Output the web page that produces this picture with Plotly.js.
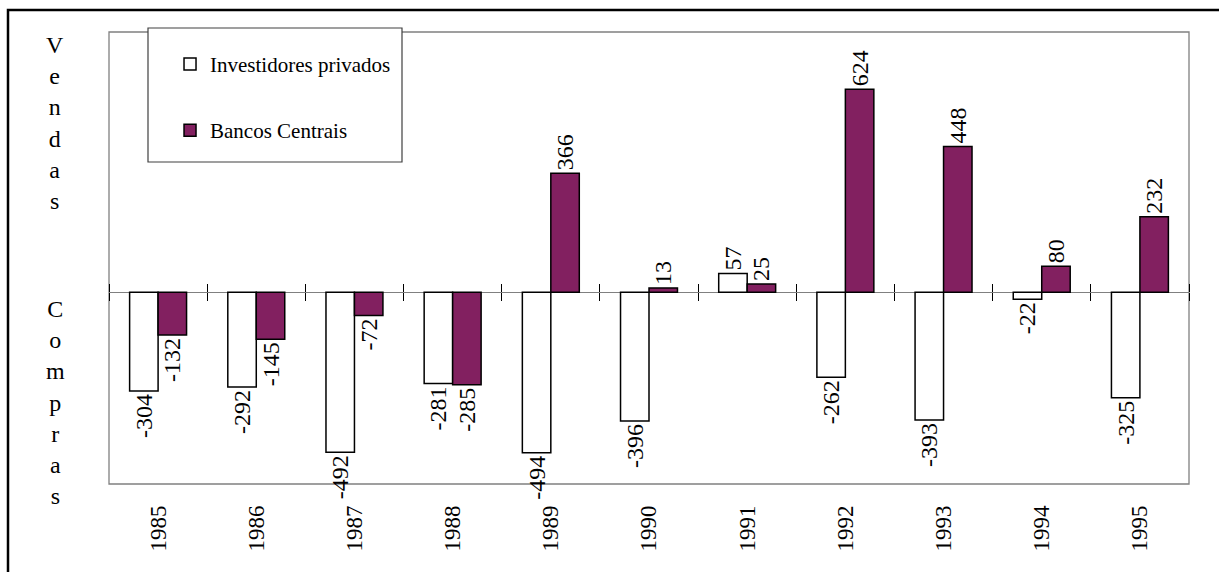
<!DOCTYPE html>
<html><head><meta charset="utf-8">
<script src="https://cdn.plot.ly/plotly-3.0.1.min.js"></script>
<style>html,body{margin:0;padding:0;background:#fff}#chart{width:1219px;height:572px}</style>
</head><body><div id="chart"></div>
<script>
const years = ['1985','1986','1987','1988','1989','1990','1991','1992','1993','1994','1995'];
const investidores = [-304, -292, -492, -281, -494, -396, 57, -262, -393, -22, -325];
const bancos = [-132, -145, -72, -285, 366, 13, 25, 624, 448, 80, 232];
const seriesNames = ['Investidores privados', 'Bancos Centrais'];

const FONT = 'Liberation Serif';
const PURPLE = '#822060';

const traces = [
  {type:'bar', x:years, y:investidores, name:seriesNames[0], legendgroup:'a',
   marker:{color:'#ffffff', line:{color:'#000', width:1.5}},
   text:investidores.map(v=>String(v)), texttemplate:'%{text}', textposition:'outside', textangle:-90, constraintext:'none',
   cliponaxis:false, textfont:{family:FONT, size:24, color:'#000'}, hoverinfo:'x+y'},
  {type:'bar', x:years, y:bancos, name:seriesNames[1], legendgroup:'b',
   marker:{color:PURPLE, line:{color:'#000', width:1.5}},
   text:bancos.map(v=>String(v)), texttemplate:'%{text}', textposition:'outside', textangle:-90, constraintext:'none',
   cliponaxis:false, textfont:{family:FONT, size:24, color:'#000'}, hoverinfo:'x+y'},
  {type:'scatter', mode:'markers', x:years, y:years.map(()=>0), xaxis:'x2', yaxis:'y',
   marker:{opacity:0}, showlegend:false, hoverinfo:'skip'},
  {type:'scatter', mode:'markers', x:years, y:years.map(()=>0), xaxis:'x3', yaxis:'y',
   marker:{opacity:0}, showlegend:false, hoverinfo:'skip'}
];

const zeroPos = 590/1390;
const tickAxis = (side) => ({type:'category', overlaying:'x', anchor:'free', position:zeroPos, side:side,
  ticks:'outside', ticklen:8, tickwidth:1, tickcolor:'#000', tickson:'boundaries',
  showticklabels:false, showgrid:false, showline:false, zeroline:false, range:[-0.5,10.5], fixedrange:true});

const layout = {
  width:1219, height:572,
  margin:{l:109, r:30, t:32, b:88},
  paper_bgcolor:'#fff', plot_bgcolor:'rgba(0,0,0,0)',
  font:{family:FONT, color:'#000'},
  barmode:'group', bargap:0.42, bargroupgap:0,
  xaxis:{type:'category', range:[-0.5,10.5], tickangle:-90, ticks:'', showline:false, showgrid:false,
    tickfont:{family:FONT, size:23, color:'#000'}, ticklabelstandoff:16},
  xaxis2: tickAxis('bottom'),
  xaxis3: tickAxis('top'),
  yaxis:{range:[-590, 800], showticklabels:false, showgrid:false, ticks:'',
    zeroline:true, zerolinecolor:'#808080', zerolinewidth:1.2, showline:false},
  showlegend:true,
  legend:{x:0.0565, y:0.974, xanchor:'left', yanchor:'top', bgcolor:'rgba(0,0,0,0)', borderwidth:0,
    traceorder:'grouped', tracegroupgap:36, font:{family:FONT, size:21, color:'#000'}},
  shapes:[
    {type:'rect', xref:'paper', yref:'paper', x0:0, x1:1, y0:0, y1:1, line:{color:'#808080', width:1.3}, layer:'below'},
    {type:'rect', xref:'paper', yref:'paper', x0:(148-109)/1080, x1:(402-109)/1080, y0:(484-162)/452, y1:(484-28)/452,
      fillcolor:'#fff', line:{color:'#404040', width:1.2}, layer:'above'},
    {type:'rect', xref:'paper', yref:'paper', x0:(8-109)/1080, x1:(1240-109)/1080, y0:(484-620)/452, y1:(484-10)/452,
      line:{color:'#000', width:2.5}, layer:'above'}
  ],
  annotations:[
    {xref:'paper', yref:'paper', x:(55-109)/1080, y:(484-123)/452, xanchor:'center', yanchor:'middle', showarrow:false,
     text:'V<br>e<br>n<br>d<br>a<br>s', font:{family:FONT, size:24, color:'#000'}, align:'center'},
    {xref:'paper', yref:'paper', x:(55-109)/1080, y:(484-402)/452, xanchor:'center', yanchor:'middle', showarrow:false,
     text:'C<br>o<br>m<br>p<br>r<br>a<br>s', font:{family:FONT, size:24, color:'#000'}, align:'center'}
  ]
};

Plotly.newPlot('chart', traces, layout, {displayModeBar:false, staticPlot:true});
</script></body></html>
